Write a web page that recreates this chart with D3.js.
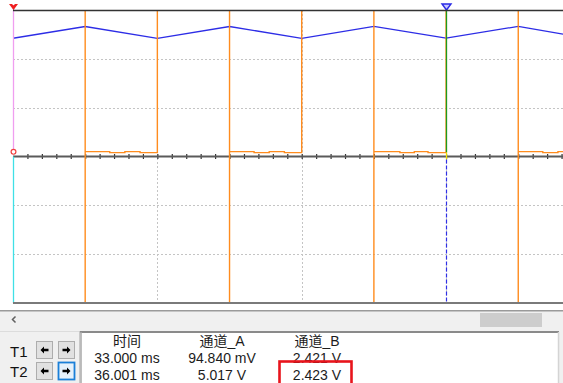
<!DOCTYPE html>
<html>
<head>
<meta charset="utf-8">
<script src="https://cdn.jsdelivr.net/npm/d3@7"></script>
<style>
  html, body { margin: 0; padding: 0; background: #fff; }
  svg { display: block; }
  text { font-family: "Liberation Sans", "Noto Sans CJK SC", sans-serif; }
</style>
</head>
<body>
<svg id="scope" width="563" height="383"></svg>
<script>
// ---- Channel A (orange): PWM drive, time in ms, level in V ----
const chATime = [33.0, 33.5, 33.5, 33.5, 33.67, 33.67, 33.775, 33.775, 33.88, 33.88, 34.0, 34.0,
                 34.5, 34.5, 34.5, 34.67, 34.67, 34.775, 34.775, 34.88, 34.88, 35.0, 35.0,
                 35.5, 35.5, 35.5, 35.68, 35.68, 35.78, 35.78, 35.875, 35.875, 36.0, 36.0,
                 36.5, 36.5, 36.5, 36.67, 36.67, 36.775, 36.775, 36.81];
const chAVolt = [5.0, 5.0, -3.6, 0.10, 0.10, 0.08, 0.08, 0.10, 0.10, 0.08, 0.08, 5.0,
                 5.0, -3.6, 0.10, 0.10, 0.08, 0.08, 0.10, 0.10, 0.08, 0.08, 5.0,
                 5.0, -3.6, 0.10, 0.10, 0.08, 0.08, 0.10, 0.10, 0.08, 0.08, 5.0,
                 5.0, -3.6, 0.10, 0.10, 0.08, 0.08, 0.10, 0.10];

// ---- Channel B (blue): filtered output ripple ----
const chBTime = [33.0, 33.5, 34.0, 34.5, 35.0, 35.5, 36.0, 36.5, 36.81];
const chBVolt = [2.421, 2.662, 2.421, 2.662, 2.420, 2.665, 2.423, 2.665, 2.505];

// ---- Cursors and readout ----
const cursorNames = ["T1", "T2"];
const cursorTimes = [33.000, 36.001];
const cursorAVolt = [0.09484, 5.017];
const readoutHeaders = ["时间", "通道_A", "通道_B"];
const readoutT1 = ["33.000 ms", "94.840 mV", "2.421 V"];
const readoutT2 = ["36.001 ms", "5.017 V", "2.423 V"];

// ---- Grid ----
const gridVolts = [-2, -1, 1, 2];
const gridTimes = [34, 35, 36];
const timeRange = [33.0, 36.81];
const voltRange = [-3, 3];

const svg = d3.select("#scope");
const W = 563;
const plot = { left: 13, right: 563, top: 10, bottom: 303 };

const x = d3.scaleLinear().domain(timeRange).range([plot.left, plot.right]);
const y = d3.scaleLinear().domain(voltRange).range([plot.bottom, plot.top]);

svg.append("defs").append("clipPath").attr("id", "plotClip")
  .append("rect")
  .attr("x", plot.left).attr("y", plot.top)
  .attr("width", plot.right - plot.left).attr("height", plot.bottom - plot.top);

// dotted graticule
const grid = svg.append("g").attr("stroke", "#c4c4c4").attr("stroke-width", 1)
  .attr("stroke-dasharray", "2,2");
grid.selectAll("line.h").data(gridVolts).join("line")
  .attr("x1", plot.left).attr("x2", plot.right)
  .attr("y1", d => Math.round(y(d)) + 0.5).attr("y2", d => Math.round(y(d)) + 0.5);
grid.selectAll("line.v").data(gridTimes).join("line")
  .attr("x1", d => Math.round(x(d)) + 0.5).attr("x2", d => Math.round(x(d)) + 0.5)
  .attr("y1", plot.top).attr("y2", plot.bottom);

// centre time axis with 0.1 ms ticks
const tickVals = d3.range(331, 369).map(d => d / 10);
const axis = d3.axisBottom(x).tickValues(tickVals).tickSize(5).tickSizeOuter(0).tickFormat("");
const axG = svg.append("g").attr("transform", `translate(0,${y(0) - 2.5})`).call(axis);
axG.select(".domain").remove();
axG.selectAll(".tick line").attr("stroke", "#333").attr("stroke-width", 1.2);
svg.append("line")
  .attr("x1", plot.left).attr("x2", plot.right)
  .attr("y1", y(0)).attr("y2", y(0))
  .attr("stroke", "#5a5a5a").attr("stroke-width", 1.8);

const traces = svg.append("g").attr("clip-path", "url(#plotClip)");

// channel B
const lineB = d3.line().x(d => x(d[0])).y(d => y(d[1]));
traces.append("path")
  .datum(d3.zip(chBTime, chBVolt))
  .attr("d", lineB)
  .attr("fill", "none")
  .attr("stroke", "#2d2de6")
  .attr("stroke-width", 1.3);

// channel A
const lineA = d3.line().x(d => x(d[0])).y(d => y(d[1]));
traces.append("path")
  .datum(d3.zip(chATime, chAVolt))
  .attr("d", lineA)
  .attr("fill", "none")
  .attr("stroke", "#ff8c1e")
  .attr("stroke-width", 1.4);

// cursor T1
const t1x = Math.round(x(cursorTimes[0])) + 0.5;
svg.append("line").attr("x1", t1x).attr("x2", t1x).attr("y1", 5).attr("y2", y(cursorAVolt[0]) - 2.5)
  .attr("stroke", "#f09ef0").attr("stroke-width", 1.3);
svg.append("line").attr("x1", t1x).attr("x2", t1x).attr("y1", y(0)).attr("y2", plot.bottom)
  .attr("stroke", "#3fe0e6").attr("stroke-width", 1.3);
svg.append("circle").attr("cx", t1x).attr("cy", y(cursorAVolt[0])).attr("r", 2.4)
  .attr("fill", "#fff").attr("stroke", "#f04040").attr("stroke-width", 1.2);
svg.append("path")
  .attr("d", `M${t1x - 4.5},4 L${t1x - 1.5},4 L${t1x},5.5 L${t1x + 1.5},4 L${t1x + 4.5},4 L${t1x},10 Z`)
  .attr("fill", "#f02020");

// cursor T2
const t2x = Math.round(x(cursorTimes[1])) + 0.5;
svg.append("line").attr("x1", t2x).attr("x2", t2x).attr("y1", 5).attr("y2", y(0) - 4)
  .attr("stroke", "#1d9a1d").attr("stroke-width", 1.3);
svg.append("line").attr("x1", t2x).attr("x2", t2x).attr("y1", y(0) - 4).attr("y2", y(0) + 3)
  .attr("stroke", "#f0e000").attr("stroke-width", 1.3);
svg.append("line").attr("x1", t2x).attr("x2", t2x).attr("y1", y(0) + 3).attr("y2", plot.bottom)
  .attr("stroke", "#3030e6").attr("stroke-width", 1.2).attr("stroke-dasharray", "4,2");
svg.append("path")
  .attr("d", `M${t2x - 4.5},4 L${t2x + 4.5},4 L${t2x},10 Z`)
  .attr("fill", "#c8c8ff").attr("stroke", "#2a2ae6").attr("stroke-width", 1.4);

// plot frame (top and bottom)
svg.append("line").attr("x1", plot.left).attr("x2", W).attr("y1", plot.top + 0.5).attr("y2", plot.top + 0.5)
  .attr("stroke", "#333").attr("stroke-width", 1.4);
svg.append("line").attr("x1", plot.left).attr("x2", W).attr("y1", plot.bottom).attr("y2", plot.bottom)
  .attr("stroke", "#7a7a7a").attr("stroke-width", 2);

// ---- lower panel: scroll bar and cursor readout ----
svg.append("rect").attr("x", 0).attr("y", 311).attr("width", W).attr("height", 72).attr("fill", "#f0f0f0");
svg.append("line").attr("x1", 0).attr("x2", W).attr("y1", 310.8).attr("y2", 310.8)
  .attr("stroke", "#9a9a9a").attr("stroke-width", 1.4);
svg.append("path").attr("d", "M15.5,316.5 L12.5,319.5 L15.5,322.5")
  .attr("fill", "none").attr("stroke", "#606060").attr("stroke-width", 1.5);
svg.append("rect").attr("x", 480).attr("y", 313).attr("width", 62).attr("height", 14).attr("fill", "#cdcdcd");

svg.append("line").attr("x1", 0).attr("x2", 80).attr("y1", 331.5).attr("y2", 331.5)
  .attr("stroke", "#dcdcdc").attr("stroke-width", 1);
svg.append("line").attr("x1", 79.5).attr("x2", 79.5).attr("y1", 331).attr("y2", 383)
  .attr("stroke", "#c8c8c8").attr("stroke-width", 1);
svg.append("rect").attr("x", 81).attr("y", 332).attr("width", 477).attr("height", 60).attr("fill", "#fff");
svg.append("line").attr("x1", 80).attr("x2", 559).attr("y1", 332).attr("y2", 332)
  .attr("stroke", "#8a8a8a").attr("stroke-width", 2);
svg.append("line").attr("x1", 81).attr("x2", 81).attr("y1", 332).attr("y2", 383)
  .attr("stroke", "#a8a8a8").attr("stroke-width", 1.5);
svg.append("line").attr("x1", 558.5).attr("x2", 558.5).attr("y1", 332).attr("y2", 383)
  .attr("stroke", "#d4d4d4").attr("stroke-width", 1.5);

// cursor names and nudge buttons
const rowTop = [341, 362];
const labelBase = [356.5, 376.5];
const arrowLeft = (cx, cy) => `M${cx - 4},${cy} L${cx - 0.5},${cy - 3.5} L${cx - 0.5},${cy - 1.2} L${cx + 4},${cy - 1.2} L${cx + 4},${cy + 1.2} L${cx - 0.5},${cy + 1.2} L${cx - 0.5},${cy + 3.5} Z`;
const arrowRight = (cx, cy) => `M${cx + 4},${cy} L${cx + 0.5},${cy - 3.5} L${cx + 0.5},${cy - 1.2} L${cx - 4},${cy - 1.2} L${cx - 4},${cy + 1.2} L${cx + 0.5},${cy + 1.2} L${cx + 0.5},${cy + 3.5} Z`;
cursorNames.forEach((name, i) => {
  svg.append("text").attr("x", 10).attr("y", labelBase[i])
    .attr("font-size", 15).attr("fill", "#111").text(name);
  const top = rowTop[i];
  const selected = i === 1;
  svg.append("rect").attr("x", 36.5).attr("y", top + 0.5).attr("width", 16).attr("height", 17)
    .attr("fill", "#e1e1e1").attr("stroke", "#adadad");
  svg.append("path").attr("d", arrowLeft(44.5, top + 9)).attr("fill", "#000");
  svg.append("rect").attr("x", 58.5).attr("y", top + 0.5).attr("width", 16).attr("height", 17)
    .attr("fill", selected ? "#e5f1fb" : "#e1e1e1")
    .attr("stroke", selected ? "#1a7fd8" : "#adadad").attr("stroke-width", selected ? 1.8 : 1);
  svg.append("path").attr("d", arrowRight(66.5, top + 9)).attr("fill", "#000");
});

// readout table
const colX = [127, 222, 317];
const readout = svg.append("g").attr("text-anchor", "middle").attr("font-size", 14).attr("fill", "#1c1c1c");
readout.selectAll("text.h").data(readoutHeaders).join("text")
  .attr("x", (d, i) => colX[i]).attr("y", 345.5).text(d => d);
readout.selectAll("text.r1").data(readoutT1).join("text")
  .attr("x", (d, i) => colX[i]).attr("y", 363).text(d => d);
readout.selectAll("text.r2").data(readoutT2).join("text")
  .attr("x", (d, i) => colX[i]).attr("y", 380).text(d => d);

// highlight around the T2 channel B reading
svg.append("rect").attr("x", 279.5).attr("y", 361.5).attr("width", 72).attr("height", 30)
  .attr("fill", "none").attr("stroke", "#e8141c").attr("stroke-width", 2.6);
</script>
</body>
</html>
